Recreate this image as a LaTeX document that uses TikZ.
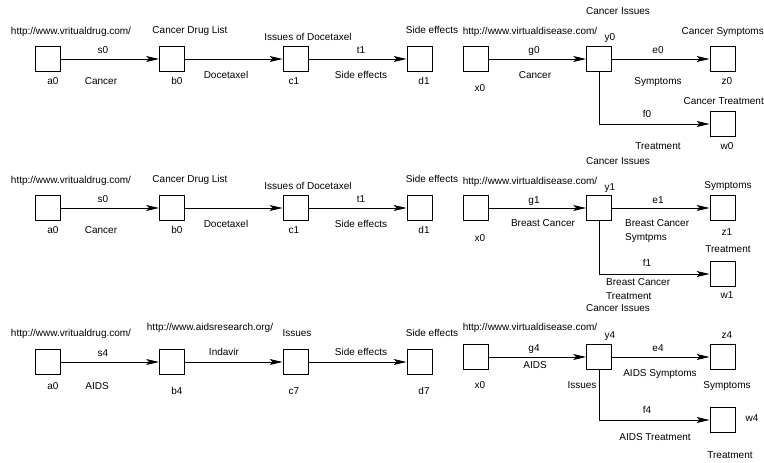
\documentclass[tikz,border=0pt]{standalone}
\usepackage{fontspec}
\setmainfont{Liberation Sans}
\usetikzlibrary{arrows.meta}

\begin{document}
\begin{tikzpicture}[x=1pt, y=-1pt, font=\fontsize{10}{14}\selectfont,
  box/.style={draw, line width=0.9pt, minimum size=25pt, inner sep=0pt},
  lbl/.style={inner sep=0pt, text height=7.2pt, text depth=0pt},
  arr/.style={line width=0.9pt, -{Stealth[length=13pt, width=6pt, inset=3pt]}}]
\useasboundingbox (0,0) rectangle (764,463);
% 左侧三行：a -> b -> c -> d（框中心 x = 48, 172, 295.5, 419.5）
\foreach \r/\y in {1/59, 2/208, 3/362}{
  \node[box] (a\r) at (48,\y) {};
  \node[box] (b\r) at (172,\y) {};
  \node[box] (c\r) at (295.5,\y) {};
  \node[box] (d\r) at (419.5,\y) {};
  \draw[arr] (a\r) -- (b\r);
  \draw[arr] (b\r) -- (c\r);
  \draw[arr] (c\r) -- (d\r);
}
% 右侧三行：x -> y -> z，y 再折到 w
\foreach \r/\y/\v in {1/59/124, 2/208/274, 3/357/420}{
  \node[box] (x\r) at (475.5,\y) {};
  \node[box] (y\r) at (599,\y) {};
  \node[box] (z\r) at (722.5,\y) {};
  \node[box] (w\r) at (722.5,\v) {};
  \draw[arr] (x\r) -- (y\r);
  \draw[arr] (y\r) -- (z\r);
  \draw[arr] (y\r.south) |- (w\r);
}
% 左侧第 1、2 行文字（两行相同，下移 149）
\foreach \dy [count=\r] in {0,149}{
  \foreach \x/\y/\t [count=\i] in {71/31/{http://www.vritualdrug.com/}, 103/50/s0, 53/81/a0,
      101/81/Cancer, 190/30/Cancer Drug List, 177/81/b0, 226/75/Docetaxel,
      308/37/Issues of Docetaxel, 294/81/c1, 361/50/t1, 361/75/Side effects,
      432/30/Side effects, 424/81/d1}
    \node[lbl] (l\r-\i) at (\x,\y+\dy) {\t};
}
% 左侧第 3 行文字
\foreach \x/\y/\t [count=\i] in {71/333/{http://www.vritualdrug.com/}, 103/353/s4, 53/386/a0,
    97/386/AIDS, 210/327/{http://www.aidsresearch.org/}, 224/352/Indavir, 177/391/b4,
    297/333/Issues, 294/391/c7, 361/352/Side effects, 432/333/Side effects, 424/391/d7}
  \node[lbl] (l3-\i) at (\x,\y) {\t};
% 右侧第 1 行文字
\foreach \x/\y/\t [count=\i] in {618/11/Cancer Issues, 530/31/{http://www.virtualdisease.com/},
    610/37/y0, 534/50/g0, 535/75/Cancer, 480/88/x0, 658/50/e0, 658/81/Symptoms, 727/81/z0,
    647/114/f0, 658/146/Treatment, 727/146/w0}
  \node[lbl] (k1-\i) at (\x,\y) {\t};
\node[lbl, anchor=east] (k1-s) at (764,31) {Cancer Symptoms};
\node[lbl, anchor=east] (k1-t) at (764,101) {Cancer Treatment};
% 右侧第 2 行文字
\foreach \x/\y/\t [count=\i] in {618/161/Cancer Issues, 530/181/{http://www.virtualdisease.com/},
    610/187/y1, 534/200/g1, 543/223/Breast Cancer, 480/238/x0, 658/200/e1, 728/185/Symptoms,
    727/232/z1, 728/249/Treatment, 647/263/f1, 727/295/w1}
  \node[lbl] (k2-\i) at (\x,\y) {\t};
\node[anchor=north west, align=left, inner sep=0pt] (k2-s) at (625,219.5) {Breast Cancer\\Symtpms};
\node[anchor=north west, align=left, inner sep=0pt] (k2-t) at (606,278.5) {Breast Cancer\\Treatment};
% 右侧第 3 行文字
\foreach \x/\y/\t [count=\i] in {618/308/Cancer Issues, 530/327/{http://www.virtualdisease.com/},
    610/335/y4, 727/335/z4, 534/348/g4, 535/365/AIDS, 480/385/x0, 582/385/Issues, 658/348/e4,
    660/373/AIDS Symptoms, 727/385/Symptoms, 647/410/f4, 752/418/w4, 655/437/AIDS Treatment,
    730/455/Treatment}
  \node[lbl] (k3-\i) at (\x,\y) {\t};
\end{tikzpicture}
\end{document}
